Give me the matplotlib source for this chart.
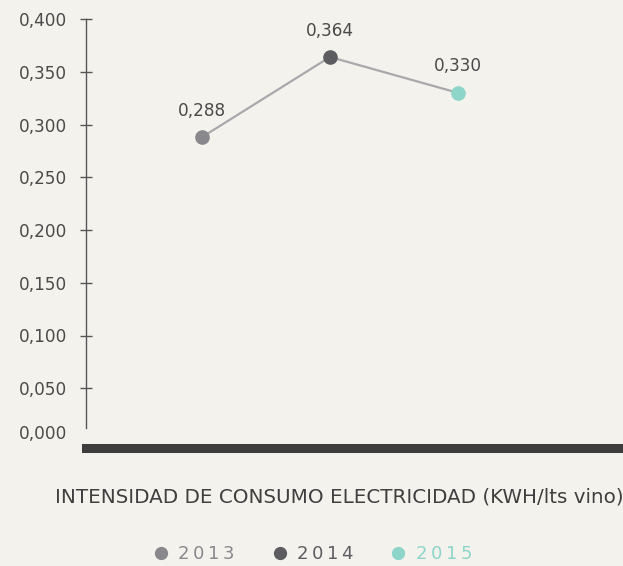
import matplotlib.pyplot as plt
from matplotlib.lines import Line2D

years = ['2013', '2014', '2015']
intensidad = [0.288, 0.364, 0.330]
etiquetas = ['0,288', '0,364', '0,330']
colores = ['#88888d', '#5d5d61', '#8dd5c9']
yticks = [0.0, 0.05, 0.10, 0.15, 0.20, 0.25, 0.30, 0.35, 0.40]
ytick_labels = ['0,000', '0,050', '0,100', '0,150', '0,200', '0,250', '0,300', '0,350', '0,400']

bg = '#f4f2ed'
txt = '#4a4a4a'

plt.rcParams['font.family'] = ['DejaVu Sans']

fig = plt.figure(figsize=(6.23, 5.66), dpi=100, facecolor=bg)
ax = fig.add_axes([86 / 623, 125 / 566, 537 / 623, 422 / 566])
ax.set_facecolor(bg)

x = list(range(len(years)))
ax.plot(x, intensidad, color='#a9a9ac', linewidth=1.6, zorder=2)
for xi, yi, c, lab, yr in zip(x, intensidad, colores, etiquetas, years):
    ax.plot(xi, yi, 'o', color=c, markersize=9.5, zorder=3, label=yr)
    ax.annotate(lab, (xi, yi), xytext=(0, 19), textcoords='offset points',
                ha='center', va='center', fontsize=12.2, color=txt)

ax.set_xlim(-0.906, 3.289)
ax.set_ylim(0, 0.4)
ax.set_xticks([])
ax.set_yticks(yticks)
ax.set_yticklabels([''] + ytick_labels[1:], fontsize=12.2, color=txt)
ax.tick_params(axis='y', direction='inout', length=8, width=1, color='#555555', pad=9.5)
ax.yaxis.get_major_ticks()[0].tick1line.set_visible(False)
# the zero label sits a little above the baseline
ax.annotate(ytick_labels[0], xy=(0, yticks[0]), xycoords=('axes fraction', 'data'),
            xytext=(-13.5, 5), textcoords='offset points', ha='right', va='center',
            fontsize=12.2, color=txt)

for s in ['top', 'right']:
    ax.spines[s].set_visible(False)
ax.spines['left'].set_bounds(0.012, 0.4)
ax.spines['left'].set_color('#555555')
ax.spines['left'].set_linewidth(1)
ax.spines['bottom'].set_position(('outward', 4.7))
ax.spines['bottom'].set_linewidth(6.5)
ax.spines['bottom'].set_color('#3d3d3d')
ax.spines['bottom'].set_capstyle('projecting')

fig.text(55 / 623, 1 - 497 / 566, 'INTENSIDAD DE CONSUMO ELECTRICIDAD (KWH/lts vino)',
         ha='left', va='center', fontsize=14.3, color='#3f3f3f')

handles = [Line2D([], [], marker='o', linestyle='none', color=c, markersize=8.5) for c in colores]
spaced = ['\u2009'.join(y) for y in years]
leg = fig.legend(handles, spaced, loc='center', bbox_to_anchor=(312 / 623, 1 - 554 / 566),
                 ncol=3, frameon=False, fontsize=13, handletextpad=0.45, columnspacing=2.0,
                 handlelength=1.0)
for t, c in zip(leg.get_texts(), colores):
    t.set_color(c)

plt.savefig('out.png', dpi=100, facecolor=bg)
